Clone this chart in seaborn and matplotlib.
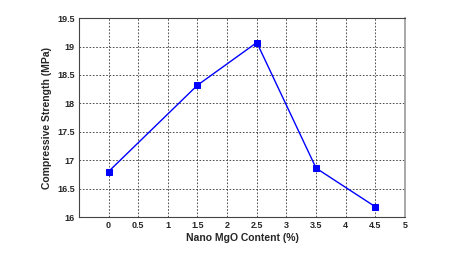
import numpy as np
import pandas as pd
import matplotlib
matplotlib.use("Agg")
import matplotlib.pyplot as plt
import seaborn as sns

# nano MgO content vs compressive strength
mgoContent = [0, 1.5, 2.5, 3.5, 4.5]
strength = [16.80, 18.32, 19.07, 16.86, 16.18]

xTicks = [0, 0.5, 1, 1.5, 2, 2.5, 3, 3.5, 4, 4.5, 5]
yTicks = [16, 16.5, 17, 17.5, 18, 18.5, 19, 19.5]

sns.set_style("white")
plt.rcParams['font.family'] = ['Liberation Sans', 'DejaVu Sans']

df = pd.DataFrame({"content": mgoContent, "strength": strength})

fig = plt.figure(figsize=(4.64, 2.66), dpi=100)
ax = fig.add_axes([0.170, 0.184, 0.703, 0.748])

sns.lineplot(data=df, x="content", y="strength", ax=ax,
             color="#0000ff", linewidth=1.0, marker="s", markersize=5,
             markeredgecolor="#0000ff", markerfacecolor="#0000ff")

ax.set_xlim(-0.5, 5)
ax.set_ylim(16, 19.5)
ax.set_xticks(xTicks)
ax.set_xticklabels([f"{t:g}" for t in xTicks], fontsize=6.5, fontweight="bold")
ax.set_yticks(yTicks)
ax.set_yticklabels([f"{t:g}" for t in yTicks], fontsize=6.5, fontweight="bold")
ax.tick_params(direction="in", length=2, width=0.6, pad=3)

ax.grid(True, linestyle=(0, (2, 2)), color="#333333", linewidth=0.6)
for side in ["left", "bottom", "top", "right"]:
    ax.spines[side].set_color("#444444")
    ax.spines[side].set_linewidth(0.8)
ax.spines["right"].set_color("#999999")
ax.spines["right"].set_linewidth(1.2)

ax.set_xlabel("Nano MgO Content (%)", fontsize=7.5, fontweight="bold", labelpad=2)
ax.set_ylabel("Compressive Strength (MPa)", fontsize=7.5, fontweight="bold", labelpad=4)

plt.savefig("out.png", dpi=100)
